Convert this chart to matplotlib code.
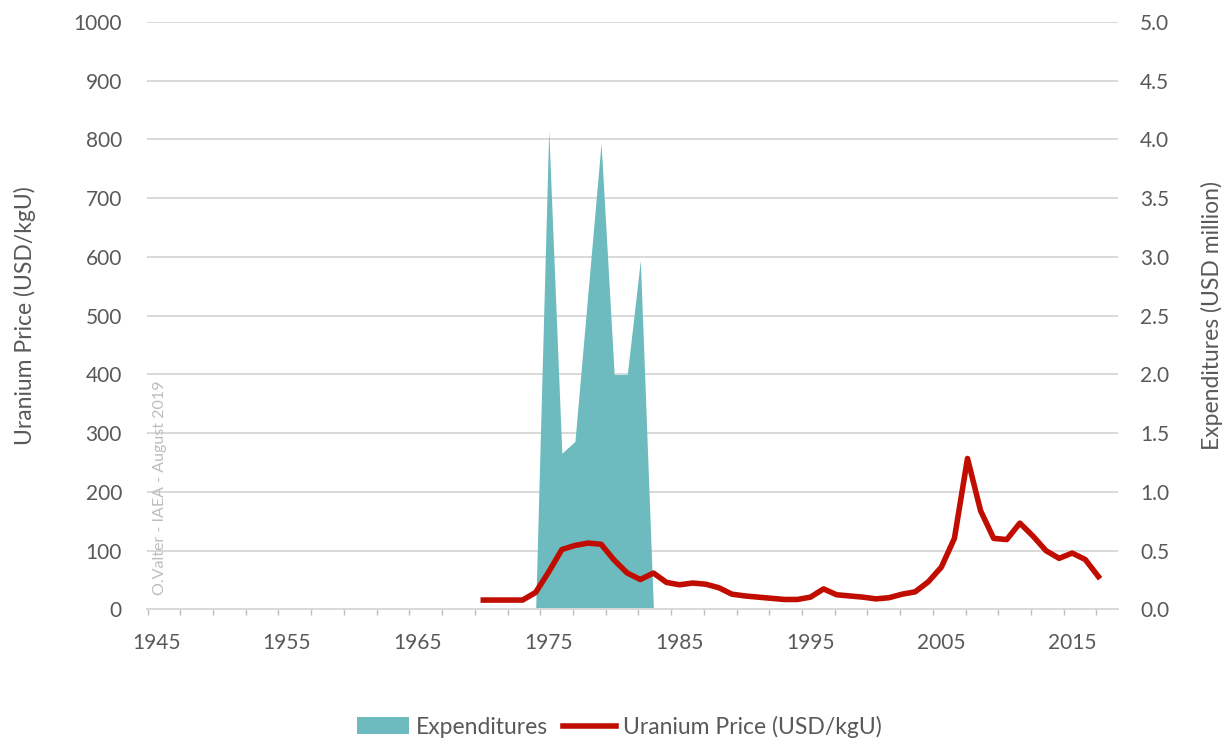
import matplotlib
matplotlib.use("Agg")
import matplotlib.pyplot as plt
import numpy as np

plt.rcParams['font.family'] = ['Lato', 'DejaVu Sans']

# Uranium price (USD/kgU), left axis
price_years = list(range(1970, 2018))
price = [16, 16, 16, 16, 29, 64, 102, 109, 113, 111,
         84, 62, 51, 62, 46, 42, 45, 43, 37, 26,
         23, 21, 19, 17, 17, 21, 35, 25, 23, 21,
         18, 20, 26, 30, 47, 72, 121, 257, 168, 121,
         119, 147, 125, 100, 87, 96, 85, 56]

# Expenditures (USD million), right axis
exp_years = list(range(1974, 1984))
expenditures = [0, 4.08, 1.33, 1.43, 2.7, 3.97, 2.0, 2.0, 2.97, 0]

label_years = list(range(1945, 2016, 10))

txt = '#595959'
grid_c = '#D9D9D9'
teal = '#6DBBBE'
red = '#C00D00'

fig = plt.figure(figsize=(12.31, 7.4), dpi=100)
ax2 = fig.add_axes([0.1194, 0.1764, 0.7888, 0.7939])
ax = ax2.twinx()
# left axis (price) drawn on top, right axis (expenditures) behind
ax.yaxis.tick_left()
ax.yaxis.set_label_position('left')
ax2.yaxis.tick_right()
ax2.yaxis.set_label_position('right')
ax.set_zorder(ax2.get_zorder() + 1)
ax.patch.set_visible(False)

ax2.fill_between(exp_years, expenditures, 0, color=teal, lw=0, zorder=2,
                 label='Expenditures')
ax.plot(price_years, price, color=red, lw=4, solid_joinstyle='round',
        label='Uranium Price (USD/kgU)', zorder=3)

ax2.set_xlim(1944.3, 2018.5)
ax.set_ylim(0, 1000)
ax2.set_ylim(0, 5)
ax.set_yticks(np.arange(0, 1001, 100))
ax2.set_yticks(np.arange(0, 5.01, 0.5))
ax2.set_yticklabels(['%.1f' % v for v in np.arange(0, 5.01, 0.5)])

ax2.grid(axis='y', color=grid_c, lw=1.4, zorder=0)
ax2.set_axisbelow(True)

ax2.set_xticks(label_years)
ax2.set_xticks(np.arange(1944.35, 2018.4, 2.5), minor=True)
ax2.tick_params(axis='x', which='major', length=0, pad=17, labelsize=15,
                colors=txt, labelbottom=True)
ax2.tick_params(axis='x', which='minor', length=4, width=1, color='#BFBFBF')
ax.tick_params(axis='y', length=0, pad=18, labelsize=15, colors=txt)
ax2.tick_params(axis='y', length=0, pad=16, labelsize=15, colors=txt)

for a in (ax, ax2):
    for s in a.spines.values():
        s.set_visible(False)
ax2.spines['bottom'].set_visible(True)
ax2.spines['bottom'].set_color(grid_c)
ax2.spines['bottom'].set_linewidth(1.4)

ax.set_ylabel('Uranium Price (USD/kgU)', fontsize=16.5, color=txt, labelpad=27)
ax2.set_ylabel('Expenditures (USD million)', fontsize=16.5, color=txt, labelpad=23)

ax.text(1945.3, 24, 'O.Valter - IAEA - August 2019', rotation=90, fontsize=11.5,
        color='#BDBDBD', ha='center', va='bottom')

h1, l1 = ax2.get_legend_handles_labels()
h2, l2 = ax.get_legend_handles_labels()
fig.legend(h1 + h2, l1 + l2, loc='center', bbox_to_anchor=(0.503, 0.018),
           ncol=2, frameon=False, fontsize=16.5, labelcolor=txt,
           handlelength=2.3, handleheight=0.75, handletextpad=0.3,
           columnspacing=0.65)

fig.savefig('out.png', dpi=100)
